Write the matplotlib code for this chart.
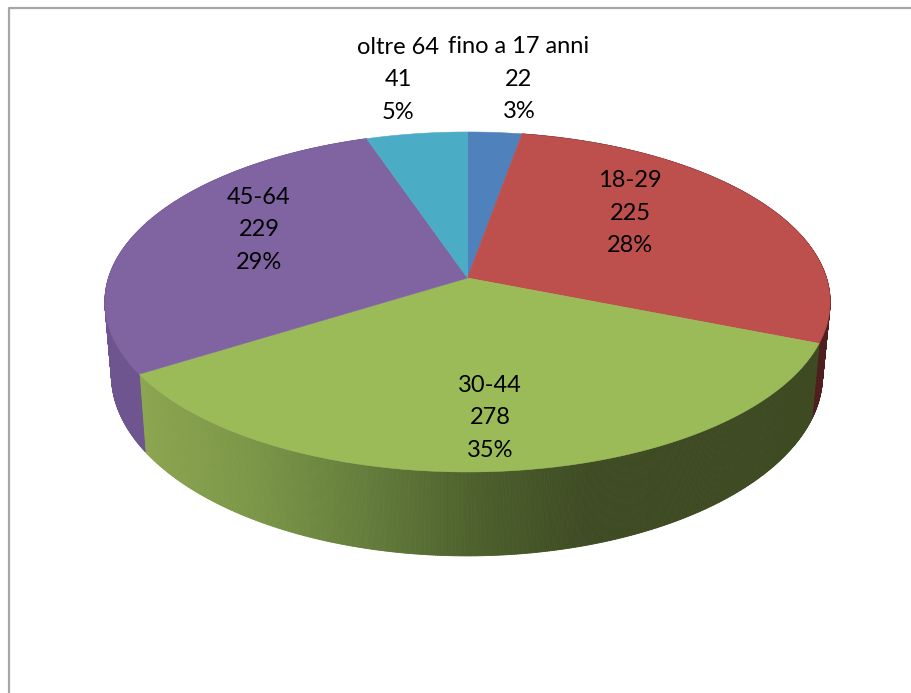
import numpy as np
import matplotlib
matplotlib.use('Agg')
import matplotlib.pyplot as plt
from matplotlib.collections import PolyCollection
from matplotlib.colors import LinearSegmentedColormap
from matplotlib.patches import Polygon

categories = ['fino a 17 anni', '18-29', '30-44', '45-64', 'oltre 64']
values = [22, 225, 278, 229, 41]
percents = ['3%', '28%', '35%', '29%', '5%']
top_colors = ['#4f81bd', '#bd4f4c', '#9bbb59', '#8064a2', '#4bacc6']
label_pos = [(519, 79), (630, 213), (490, 418), (259, 230), (398, 80)]

# side wall shading, left to right
wall_stops = {
    1: ['#4f1f1f', '#4f1f1f'],
    2: ['#8ba550', '#7b9647', '#647d3c', '#4c5f2c', '#3e4b23', '#3d4a22', '#3d4a22'],
    3: ['#6f5590', '#6a5288'],
}

plt.rcParams['font.family'] = ['Lato', 'DejaVu Sans']

fig = plt.figure(figsize=(9.12, 6.93), dpi=100)
ax = fig.add_axes([0, 0, 1, 1])
ax.axis('off')


# pie tilted in perspective, angle runs clockwise from 12 o'clock
def top_edge(t):
    u, v = np.sin(t), np.cos(t)
    d = 1 + 0.141 * v
    return 467.5 + 359 * u / d, 278 - 166.6 * v / d


def bottom_edge(t):
    u, v = np.sin(t), np.cos(t)
    return 467 + 352 * u / (1 + 0.141 * v), 350 - 175 * v / (1 + 0.15 * v)


cum = np.cumsum([0] + values) / sum(values) * 2 * np.pi

# walls first, back to front, as thin strips so the outline gets straight sides
for i in [1, 3, 2]:
    t = np.linspace(cum[i], cum[i + 1], 400)
    xt, yt = top_edge(t)
    xb, yb = bottom_edge(t)
    quads = []
    mids = []
    for j in range(len(t) - 1):
        quads.append([(xt[j], yt[j]), (xt[j + 1], yt[j + 1]), (xb[j + 1], yb[j + 1]), (xb[j], yb[j])])
        mids.append((xt[j] + xb[j]) / 2)
    mids = np.array(mids)
    cmap = LinearSegmentedColormap.from_list('wall%d' % i, wall_stops[i])
    colors = cmap((mids - mids.min()) / (mids.max() - mids.min()))
    ax.add_collection(PolyCollection(quads, facecolors=colors, edgecolors=colors, linewidths=0.6, zorder=i + 1))

# top faces
for i in range(len(values)):
    t = np.linspace(cum[i], cum[i + 1], 200)
    xt, yt = top_edge(t)
    pts = np.column_stack([np.r_[467.5, xt], np.r_[278, yt]])
    ax.add_patch(Polygon(pts, closed=True, facecolor=top_colors[i],
                         edgecolor=top_colors[i], linewidth=0.4, zorder=6))

for i in range(len(values)):
    x, y = label_pos[i]
    ax.text(x, y, '%s\n%d\n%s' % (categories[i], values[i], percents[i]), ha='center', va='center',
            fontsize=17, color='black', linespacing=1.65, zorder=7)

# chart frame, only top and left show
ax.plot([9.5, 9.5, 912], [693, 7.5, 7.5], color='#a6a6a6', linewidth=1.6, zorder=1)

ax.set_xlim(0, 912)
ax.set_ylim(693, 0)
fig.savefig('out.png', dpi=100)
